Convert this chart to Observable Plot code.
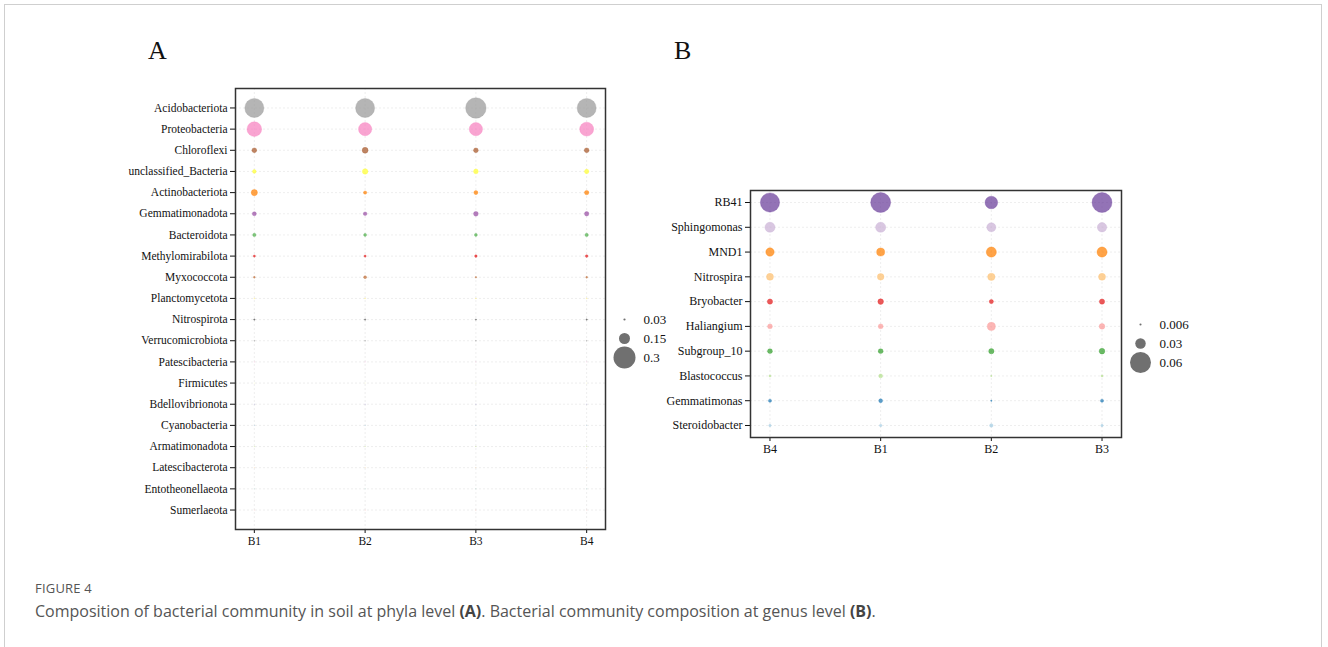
<!DOCTYPE html>
<html>
<head>
<meta charset="utf-8">
<script src="https://cdn.jsdelivr.net/npm/d3@7"></script>
<script src="https://cdn.jsdelivr.net/npm/@observablehq/plot@0.6"></script>
<style>
  html, body { margin: 0; padding: 0; background: #fff; }
  #page { position: relative; width: 1328px; height: 647px; overflow: hidden; background: #fff; }
  #box { position: absolute; left: 4px; top: 4px; width: 1318px; height: 700px; border: 1px solid #cfcfcf; box-sizing: border-box; }
  .abs { position: absolute; }
  .panel { font-family: "Liberation Serif", serif; font-size: 26px; color: #111; line-height: 1; }
  #fig { left: 35px; top: 579px; font-family: "Open Sans", sans-serif; font-size: 13px; color: #555; letter-spacing: 0.2px; }
  #cap { left: 35px; top: 600px; font-family: "Open Sans", sans-serif; font-size: 16px; color: #555; white-space: nowrap; }
  #cap b { color: #444; }
</style>
</head>
<body>
<div id="page">
  <div id="box"></div>
  <div class="abs panel" style="left:148px; top:38px;">A</div>
  <div class="abs panel" style="left:674px; top:38px;">B</div>
  <div class="abs" id="plotA" style="left:100px; top:78px;"></div>
  <div class="abs" id="legA" style="left:610px; top:300px;"></div>
  <div class="abs" id="plotB" style="left:660px; top:180px;"></div>
  <div class="abs" id="legB" style="left:1120px; top:300px;"></div>
  <div class="abs" id="fig">FIGURE 4</div>
  <div class="abs" id="cap">Composition of bacterial community in soil at phyla level <b>(A)</b>. Bacterial community composition at genus level <b>(B)</b>.</div>
</div>
<script>
// ---------- Panel A: phylum level ----------
const samplesA = ["B1", "B2", "B3", "B4"];
const phyla = ["Acidobacteriota", "Proteobacteria", "Chloroflexi", "unclassified_Bacteria",
  "Actinobacteriota", "Gemmatimonadota", "Bacteroidota", "Methylomirabilota", "Myxococcota",
  "Planctomycetota", "Nitrospirota", "Verrucomicrobiota", "Patescibacteria", "Firmicutes",
  "Bdellovibrionota", "Cyanobacteria", "Armatimonadota", "Latescibacterota",
  "Entotheonellaeota", "Sumerlaeota"];
const phylaB1 = [0.26, 0.20, 0.065, 0.05, 0.085, 0.055, 0.045, 0.030, 0.025, 0.012, 0.020, 0.012, 0.010, 0.005, 0.010, 0.006, 0.006, 0.004, 0.004, 0.003];
const phylaB2 = [0.26, 0.18, 0.080, 0.075, 0.045, 0.050, 0.040, 0.030, 0.040, 0.012, 0.020, 0.012, 0.010, 0.005, 0.010, 0.006, 0.006, 0.004, 0.004, 0.003];
const phylaB3 = [0.28, 0.18, 0.065, 0.065, 0.055, 0.065, 0.040, 0.035, 0.022, 0.012, 0.018, 0.012, 0.008, 0.005, 0.010, 0.005, 0.006, 0.004, 0.004, 0.003];
const phylaB4 = [0.26, 0.19, 0.065, 0.060, 0.060, 0.060, 0.045, 0.035, 0.025, 0.012, 0.020, 0.012, 0.008, 0.005, 0.010, 0.005, 0.006, 0.004, 0.004, 0.003];
const colorsA = ["#999999", "#F781BF", "#A65628", "#FFFF33", "#FF7F00", "#984EA3", "#4DAF4A",
  "#E41A1C", "#C0703A", "#FFED6F", "#555555", "#999999", "#FCCDE5", "#FFFFB3", "#BEBADA",
  "#80B1D3", "#B3DE69", "#FDB462", "#8DD3C7", "#FB8072"];
const legendA = [0.03, 0.15, 0.3];

// ---------- Panel B: genus level ----------
const samplesB = ["B4", "B1", "B2", "B3"];
const genera = ["RB41", "Sphingomonas", "MND1", "Nitrospira", "Bryobacter", "Haliangium",
  "Subgroup_10", "Blastococcus", "Gemmatimonas", "Steroidobacter"];
const generaB4 = [0.055, 0.029, 0.024, 0.020, 0.015, 0.014, 0.014, 0.006, 0.009, 0.007];
const generaB1 = [0.057, 0.029, 0.023, 0.019, 0.016, 0.014, 0.014, 0.011, 0.011, 0.007];
const generaB2 = [0.036, 0.026, 0.029, 0.021, 0.012, 0.023, 0.015, 0.004, 0.004, 0.010];
const generaB3 = [0.057, 0.027, 0.029, 0.020, 0.015, 0.016, 0.016, 0.006, 0.009, 0.007];
const colorsB = ["#6A3D9A", "#CAB2D6", "#FF7F00", "#FDBF6F", "#E31A1C", "#FB9A99",
  "#33A02C", "#B2DF8A", "#1F78B4", "#A6CEE3"];
const legendB = [0.006, 0.03, 0.06];

// ---------- build tables ----------
const colsA = {B1: phylaB1, B2: phylaB2, B3: phylaB3, B4: phylaB4};
const tableA = [];
samplesA.forEach(s => phyla.forEach((p, i) => tableA.push({sample: s, taxon: p, value: colsA[s][i]})));
const colsB = {B4: generaB4, B1: generaB1, B2: generaB2, B3: generaB3};
const tableB = [];
samplesB.forEach(s => genera.forEach((g, i) => tableB.push({sample: s, taxon: g, value: colsB[s][i]})));

const baseStyle = {fontFamily: "Liberation Serif, serif", fontSize: "11px", color: "#111", background: "transparent"};
const gridStyle = {stroke: "#bbb", strokeOpacity: 0.35, strokeDasharray: "2,2", strokeWidth: 0.7};

function bubble({table, samples, taxa, colors, rMax, width, height, marginLeft, xPad, yPad, fontSize}) {
  return Plot.plot({
    width, height,
    marginLeft, marginRight: 5, marginTop: 10, marginBottom: 25,
    style: {...baseStyle, fontSize},
    x: {type: "point", domain: samples, padding: xPad, round: false, label: null, tickSize: 4, tickPadding: 3},
    y: {type: "point", domain: taxa, padding: yPad, round: false, label: null, tickSize: 5, tickPadding: 3},
    r: {type: "linear", domain: [0, rMax[0]], range: [0, rMax[1]]},
    color: {type: "ordinal", domain: taxa, range: colors},
    marks: [
      Plot.gridX(samples, gridStyle),
      Plot.gridY(taxa, gridStyle),
      Plot.dot(table, {x: "sample", y: "taxon", r: "value", fill: "taxon", fillOpacity: 0.72,
        stroke: "taxon", strokeOpacity: 0.5, strokeWidth: 0.6, sort: null}),
      Plot.frame({stroke: "#333", strokeWidth: 1.5})
    ]
  });
}

function sizeLegend({values, rMax, width, height, xRange, yRange}) {
  const labels = values.map(String);
  const rows = values.map((v, i) => ({value: v, label: labels[i]}));
  return Plot.plot({
    width, height, margin: 0,
    style: {...baseStyle, fontSize: "13px"},
    x: {domain: [0, 1], range: xRange, axis: null},
    y: {type: "point", domain: labels, range: yRange, padding: 0, round: false, axis: null},
    r: {type: "linear", domain: [0, rMax[0]], range: [0, rMax[1]]},
    marks: [
      Plot.dot(rows, {x: 0, y: "label", r: "value", fill: "#707070", sort: null}),
      Plot.text(rows, {x: 1, y: "label", text: "label", textAnchor: "start", fill: "#111"})
    ]
  });
}

document.getElementById("plotA").append(bubble({
  table: tableA, samples: samplesA, taxa: phyla, colors: colorsA, rMax: [0.3, 11],
  width: 510, height: 476, marginLeft: 135, xPad: 0.17, yPad: 0.92, fontSize: "11.5px"
}));
document.getElementById("legA").append(sizeLegend({
  values: legendA, rMax: [0.3, 11], width: 70, height: 75, xRange: [14, 33], yRange: [19, 57]
}));
document.getElementById("plotB").append(bubble({
  table: tableB, samples: samplesB, taxa: genera, colors: colorsB, rMax: [0.06, 10.5],
  width: 466, height: 282, marginLeft: 90, xPad: 0.176, yPad: 0.485, fontSize: "12px"
}));
document.getElementById("legB").append(sizeLegend({
  values: legendB, rMax: [0.06, 10.5], width: 80, height: 80, xRange: [20, 39], yRange: [24, 62]
}));
</script>
</body>
</html>
